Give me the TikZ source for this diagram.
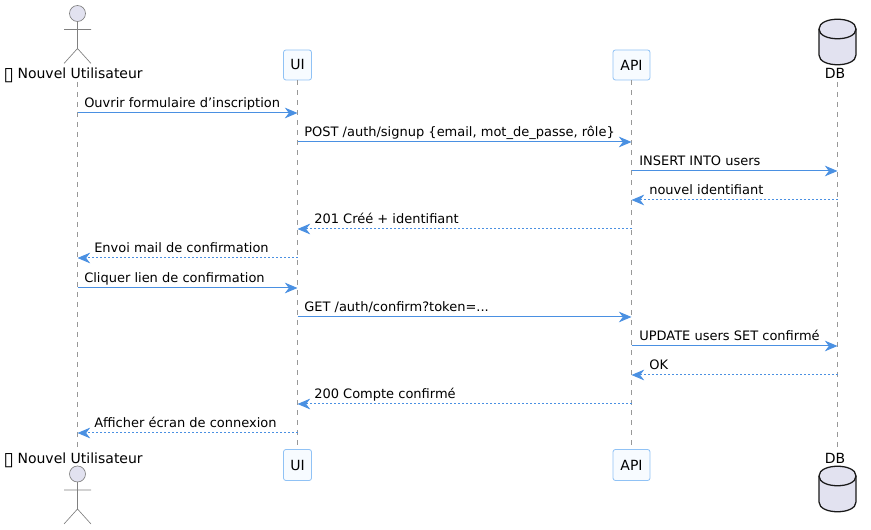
\documentclass[tikz,border=0pt]{standalone}
\usepackage{fontspec}
\setmainfont{DejaVu Sans}
\usetikzlibrary{arrows.meta}
\definecolor{msgblue}{HTML}{4A90E2}
\definecolor{boxline}{HTML}{90C2F5}
\definecolor{boxfill}{HTML}{F7FBFF}
\definecolor{actfill}{HTML}{E2E2F0}
\definecolor{lifegray}{HTML}{989898}
\tikzset{
  x=0.75pt,y=-0.75pt,
  lifeline/.style={draw=lifegray,line width=0.5pt,dash pattern=on 3.75pt off 3.75pt},
  partbox/.style={draw=boxline,fill=boxfill,rounded corners=1.8pt,line width=0.6pt,minimum height=22.5pt,inner sep=0pt,font=\fontsize{10.5pt}{12pt}\selectfont,text=black},
  partlabel/.style={inner sep=0pt,font=\fontsize{10.5pt}{12pt}\selectfont,text=black},
  actorline/.style={draw=black!50,line width=0.5pt},
  dbshape/.style={draw=black!90,fill=actfill,line width=0.95pt},
  msglabel/.style={anchor=base west,inner sep=0pt,font=\fontsize{9.75pt}{12pt}\selectfont,text=black},
  callmsg/.style={draw=msgblue,line width=0.75pt,-{Stealth[length=9.5pt,width=8pt,inset=3pt]}},
  retmsg/.style={callmsg,dash pattern=on 1.5pt off 1.5pt}
}
\newcommand{\drawactor}[1]{%
  \draw[actorline,fill=actfill] (77.5,#1) circle[radius=8];
  \draw[actorline] (77.5,#1+8) -- (77.5,#1+35)
    (64,#1+16) -- (91,#1+16)
    (64,#1+50) -- (77.5,#1+35) -- (91,#1+50);
}
\newcommand{\drawdb}[1]{%
  \draw[dbshape] (819,#1+10) .. controls (819,#1-3) and (856,#1-3) .. (856,#1+10)
    -- (856,#1+36) .. controls (856,#1+49) and (819,#1+49) .. (819,#1+36) -- cycle;
  \draw[dbshape,fill=none] (819,#1+10) .. controls (819,#1+23) and (856,#1+23) .. (856,#1+10);
}
\newcommand{\msg}[7]{%
  \coordinate (#1s) at (#2 |- 0,#4);
  \coordinate (#1e) at (#3 |- 0,#4);
  \draw[#5] (#1s) -- (#1e);
  \node[msglabel] (#1t) at (#6,#4-5.2) {#7};
}
\newcommand{\tofu}{\makebox[6.45pt][c]{\raisebox{-1.2pt}{\fontsize{14pt}{12pt}\selectfont ▯}}}
\begin{document}
\begin{tikzpicture}
\useasboundingbox (0,0) rectangle (871,530);
% lifelines
\coordinate (actT) at (77.5,82); \coordinate (actB) at (77.5,447);
\coordinate (dbT) at (837.5,82); \coordinate (dbB) at (837.5,447);
\node[partbox,minimum width=21pt] (uiT) at (297.5,65) {UI};
\node[partbox,minimum width=21pt,minimum height=23.25pt] (uiB) at (297.5,465) {UI};
\node[partbox,minimum width=27.75pt] (apiT) at (631.5,65) {API};
\node[partbox,minimum width=27.75pt,minimum height=23.25pt] (apiB) at (631.5,465) {API};
\draw[lifeline] (actT) -- (actB);
\draw[lifeline] (uiT) -- (uiB);
\draw[lifeline] (apiT) -- (apiB);
\draw[lifeline] (dbT) -- (dbB);
% participants
\drawactor{13.5}
\drawactor{474}
\node[partlabel,anchor=base east] (userT) at (143,78.8) {\tofu{} Nouvel Utilisateur};
\node[partlabel,anchor=base east] (userB) at (143,463.8) {\tofu{} Nouvel Utilisateur};
\drawdb{19}
\drawdb{466}
\node[partlabel] (dbLT) at (835,73) {DB};
\node[partlabel] (dbLB) at (835,458) {DB};
% messages
\msg{a}{actT}{uiT}{113}{callmsg}{84}{Ouvrir formulaire d’inscription}
\msg{b}{uiT}{apiT}{142}{callmsg}{304}{POST /auth/signup \{email, mot\_de\_passe, rôle\}}
\msg{c}{apiT}{dbT}{171}{callmsg}{639}{INSERT INTO users}
\msg{d}{dbT}{apiT}{200}{retmsg}{649}{nouvel identifiant}
\msg{e}{apiT}{uiT}{229}{retmsg}{314}{201 Créé + identifiant}
\msg{f}{uiT}{actT}{258}{retmsg}{94}{Envoi mail de confirmation}
\msg{g}{actT}{uiT}{288}{callmsg}{84}{Cliquer lien de confirmation}
\msg{h}{uiT}{apiT}{317}{callmsg}{304}{GET /auth/confirm?token=...}
\msg{i}{apiT}{dbT}{346}{callmsg}{639}{UPDATE users SET confirmé}
\msg{j}{dbT}{apiT}{375}{retmsg}{649}{OK}
\msg{k}{apiT}{uiT}{404}{retmsg}{314}{200 Compte confirmé}
\msg{l}{uiT}{actT}{433}{retmsg}{94}{Afficher écran de connexion}
\end{tikzpicture}
\end{document}
